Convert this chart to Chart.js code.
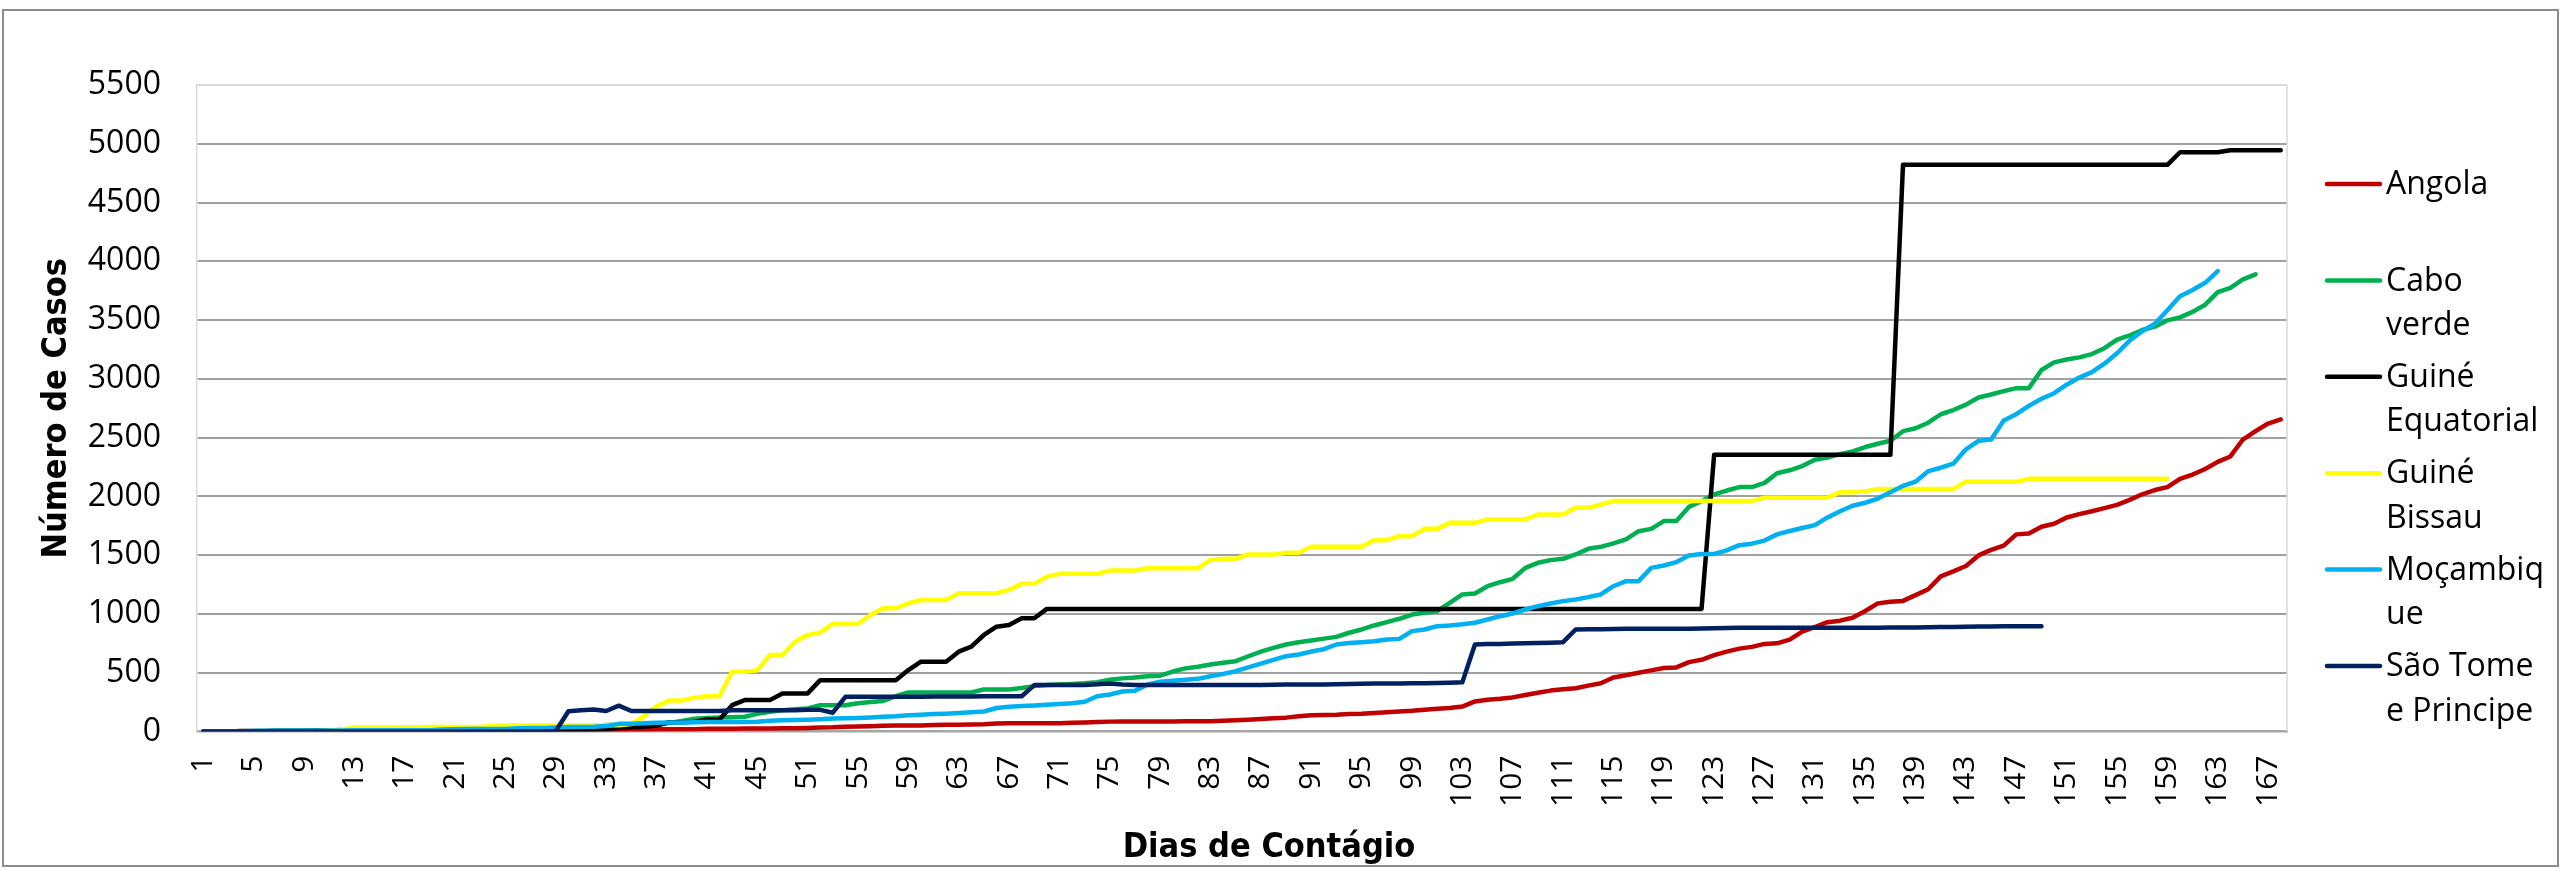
<!DOCTYPE html>
<html><head><meta charset="utf-8">
<script src="https://cdn.jsdelivr.net/npm/chart.js@4.4.1/dist/chart.umd.min.js"></script>
<style>html,body{margin:0;padding:0;background:#fff;}canvas{display:block;}</style>
</head><body>
<canvas id="c" width="2562" height="871"></canvas>
<script>
const days = [1,2,3,4,5,6,7,8,9,10,11,12,13,14,15,16,17,18,19,20,21,22,23,24,25,26,27,28,29,30,31,32,33,34,35,36,37,38,39,40,41,42,43,44,45,46,47,48,
51,52,53,54,55,56,57,58,59,60,61,62,63,64,65,66,67,68,69,70,71,72,73,74,75,76,77,78,79,80,81,82,83,84,85,86,87,88,89,90,91,92,93,94,95,96,97,98,99,100,
101,102,103,104,105,106,107,108,109,110,111,112,113,114,115,116,117,118,119,120,121,122,123,124,125,126,127,128,129,130,131,132,133,134,135,136,137,138,139,140,
141,142,143,144,145,146,147,148,149,150,151,152,153,154,155,156,157,158,159,160,161,162,163,164,165,166,167,168];
const shownTicks = [1,5,9,13,17,21,25,29,33,37,41,45,51,55,59,63,67,71,75,79,83,87,91,95,99,103,107,111,115,119,123,127,131,135,139,143,147,151,155,159,163,167];
const yTicks = [0,500,1000,1500,2000,2500,3000,3500,4000,4500,5000,5500];
const seriesNames = ["Angola","Cabo verde","Guiné Equatorial","Guiné Bissau","Moçambique","São Tome e Principe"];
const legendLines = [["Angola"],["Cabo","verde"],["Guiné","Equatorial"],["Guiné","Bissau"],["Moçambiq","ue"],["São Tome","e Principe"]];
const xTitle = "Dias de Contágio";
const yTitle = "Número de Casos";

const angola = [
0,0,0,0,0,0,0,0,0,0,
0,0,0,0,0,0,0,0,0,0,
1,2,2,3,3,4,4,5,7,7,
8,8,10,14,16,17,19,19,19,19,
24,24,24,25,25,26,27,27,30,35,
36,40,43,45,48,50,52,52,55,58,
58,60,62,69,70,70,70,71,71,74,
76,80,84,86,86,86,86,86,88,88,
88,92,96,100,106,113,118,130,138,140,
142,148,150,158,164,170,176,186,193,200,
212,256,270,278,290,310,330,348,360,368,
390,410,460,478,500,520,540,545,590,610,
650,680,705,720,745,750,781,850,889,930,
943,968,1025,1090,1104,1111,1160,1210,1320,1362,
1408,1498,1545,1581,1677,1684,1742,1767,1821,1849,
1874,1900,1928,1971,2018,2054,2079,2150,2186,2233,
2294,2340,2484,2555,2620,2655];

const caboVerde = [
1,1,1,1,3,3,4,5,5,6,
6,6,7,7,7,7,7,7,7,7,
7,7,8,8,8,10,10,10,11,20,
36,45,56,56,58,61,67,73,90,109,
115,120,122,125,150,168,180,190,196,224,
224,224,240,250,260,300,332,332,332,332,
332,332,358,358,358,370,386,395,400,405,
410,420,440,452,460,470,475,510,537,551,
570,585,598,640,680,712,740,760,775,790,
805,840,868,902,930,959,995,1010,1024,1095,
1166,1174,1236,1270,1299,1392,1435,1458,1469,1506,
1554,1571,1600,1634,1704,1724,1790,1790,1911,1960,
2018,2050,2079,2079,2115,2197,2222,2258,2312,2330,
2360,2383,2420,2448,2473,2555,2580,2627,2699,2735,
2781,2842,2867,2896,2921,2921,3075,3140,3165,3183,
3211,3261,3333,3369,3416,3444,3498,3523,3570,3631,
3738,3774,3846,3889,null,null];

const guineEquatorial = [
1,1,1,4,4,4,6,6,6,9,
9,12,12,12,12,12,13,14,14,15,
15,16,16,16,16,16,16,16,16,18,
18,18,21,30,37,40,51,79,79,83,
102,102,224,267,267,267,324,324,324,437,
437,437,437,437,437,437,523,594,594,594,
679,722,821,892,906,963,963,1043,1043,1043,
1043,1043,1043,1043,1043,1043,1043,1043,1043,1043,
1043,1043,1043,1043,1043,1043,1043,1043,1043,1043,
1043,1043,1043,1043,1043,1043,1043,1043,1043,1043,
1043,1043,1043,1043,1043,1043,1043,1043,1043,1043,
1043,1043,1043,1043,1043,1043,1043,1043,1043,1043,
2354,2354,2354,2354,2354,2354,2354,2354,2354,2354,
2354,2354,2354,2354,2354,4821,4821,4821,4821,4821,
4821,4821,4821,4821,4821,4821,4821,4821,4821,4821,
4821,4821,4821,4821,4821,4821,4821,4928,4928,4928,
4928,4945,4945,4945,4945,4945];

const guineBissau = [
0,0,0,0,0,0,2,2,2,2,
9,18,33,33,33,33,36,36,38,38,
38,38,38,46,50,50,50,50,52,53,
53,53,53,54,64,130,215,263,263,287,
300,300,508,508,520,650,650,764,821,841,
915,915,915,991,1048,1048,1091,1119,1119,1119,
1176,1176,1176,1176,1205,1256,1256,1318,1341,1341,
1341,1341,1369,1369,1369,1389,1389,1389,1389,1389,
1460,1469,1469,1506,1506,1506,1520,1520,1571,1571,
1571,1571,1571,1628,1628,1662,1662,1724,1724,1775,
1775,1775,1804,1804,1804,1804,1846,1846,1846,1903,
1903,1931,1960,1960,1960,1960,1960,1960,1960,1960,
1960,1960,1960,1960,1989,1989,1989,1989,1989,1989,
2036,2036,2043,2064,2064,2064,2064,2064,2064,2064,
2125,2125,2125,2125,2125,2150,2150,2150,2150,2150,
2150,2150,2150,2150,2150,2150,2150,
null,null,null,null,null,null,null,null,null];

const mocambique = [
1,1,1,3,5,7,8,8,8,8,
8,8,10,10,10,10,10,10,10,17,
20,21,21,21,21,28,29,29,35,39,
39,41,46,65,65,70,74,76,76,79,
80,80,81,81,82,91,95,97,100,104,
110,112,115,120,125,130,138,142,148,152,
158,164,170,200,210,216,222,228,233,240,
253,300,315,340,347,400,423,432,440,448,
470,490,513,545,578,610,641,655,680,700,
740,752,760,768,783,788,854,868,896,902,
912,925,953,981,1004,1038,1066,1089,1109,1123,
1143,1166,1236,1279,1279,1392,1412,1441,1497,1510,
1510,1541,1585,1598,1624,1677,1706,1731,1756,1821,
1874,1921,1946,1982,2036,2089,2125,2215,2244,2279,
2401,2473,2484,2645,2699,2770,2831,2878,2950,3011,
3057,3129,3218,3326,3405,3469,3584,3702,3756,3817,
3917,null,null,null,null,null];

const saoTome = [
0,0,0,0,0,0,0,0,0,0,
0,0,0,0,0,0,0,0,0,0,
0,0,0,0,0,0,0,0,4,172,
180,187,174,220,174,174,174,174,174,174,
174,174,180,180,180,180,180,180,184,184,
160,295,295,295,295,295,296,296,298,298,
298,298,299,299,299,300,395,395,395,395,
395,402,409,400,395,395,395,395,395,395,
395,395,396,396,396,398,400,400,400,400,
402,404,406,408,408,408,410,411,412,414,
418,740,745,745,748,750,752,755,760,868,
870,870,872,874,875,875,875,875,875,876,
878,880,882,882,882,882,882,882,882,882,
882,882,882,882,884,885,885,886,888,890,
892,893,894,895,896,896,896,
null,null,null,null,null,null,null,null,null,null,null,null,null,null,null,null,null,null,null];

const colors = ["#C00000","#00B050","#000000","#FFFF00","#00B0F0","#002060"];
const seriesData = [angola, caboVerde, guineEquatorial, guineBissau, mocambique, saoTome];

const W = 2562, H = 871;
const plotLeft = 197, plotRight = 2287, plotTop = 85, plotBottom = 731.5;
const FONT = '"Open Sans", "DejaVu Sans", sans-serif';

const overlay = {
  id: 'overlay',
  afterDraw(chart) {
    const ctx = chart.ctx, a = chart.chartArea;
    ctx.save();
    ctx.strokeStyle = '#d9d9d9'; ctx.lineWidth = 1.5;
    ctx.beginPath(); ctx.moveTo(a.right, a.top); ctx.lineTo(a.right, a.bottom); ctx.stroke();
    ctx.strokeStyle = '#8c8c8c'; ctx.lineWidth = 2;
    ctx.strokeRect(3, 10, W - 7, H - 15);
    ctx.fillStyle = '#000';
    ctx.font = 'bold 34px "Liberation Sans Narrow", "DejaVu Sans Condensed", sans-serif';
    ctx.textAlign = 'center'; ctx.textBaseline = 'middle';
    ctx.fillText(xTitle, 1269, 848);
    ctx.save();
    ctx.translate(57, (a.top + a.bottom) / 2); ctx.rotate(-Math.PI / 2);
    ctx.fillText(yTitle, 0, 0);
    ctx.restore();
    ctx.font = '32px ' + FONT;
    ctx.textAlign = 'left';
    chart.data.datasets.forEach((ds, i) => {
      const y = 184 + i * 96.4;
      ctx.strokeStyle = ds.borderColor; ctx.lineWidth = 4.5; ctx.lineCap = 'round';
      ctx.beginPath(); ctx.moveTo(2327, y); ctx.lineTo(2380, y); ctx.stroke();
      ctx.fillStyle = '#000';
      legendLines[i].forEach((t, j) => ctx.fillText(t, 2386, y + j * 44.5 + 1));
    });
    ctx.restore();
  }
};

new Chart(document.getElementById('c'), {
  type: 'line',
  data: {
    labels: days,
    datasets: seriesNames.map((n, i) => ({
      label: n, data: seriesData[i], borderColor: colors[i], backgroundColor: colors[i],
      borderWidth: 4.5, pointRadius: 0, tension: 0, fill: false, spanGaps: false,
      borderJoinStyle: 'round', borderCapStyle: 'round', order: seriesNames.length - 1 - i
    }))
  },
  options: {
    responsive: false, animation: false, devicePixelRatio: 1,
    layout: { padding: { left: 0, right: W - plotRight, top: plotTop, bottom: 0 } },
    plugins: { legend: { display: false }, tooltip: { enabled: false } },
    scales: {
      x: {
        type: 'category', offset: true,
        grid: { display: false, drawTicks: false },
        border: { display: true, color: '#a6a6a6', width: 2.5 },
        ticks: {
          autoSkip: false, maxRotation: 90, minRotation: 90, padding: 24,
          color: '#000', font: { family: FONT, size: 30 },
          callback: (v, i) => shownTicks.includes(days[i]) ? String(days[i]) : ''
        },
        afterFit: s => { s.height = H - plotBottom; }
      },
      y: {
        min: 0, max: 5500,
        afterBuildTicks: s => { s.ticks = yTicks.map(v => ({ value: v })); },
        grid: {
          drawTicks: false, lineWidth: 2,
          color: c => c.tick && c.tick.value === 0 ? 'rgba(0,0,0,0)' : (c.tick && c.tick.value === 5500 ? '#d9d9d9' : '#a0a0a0')
        },
        border: { display: true, color: '#d9d9d9', width: 1.5 },
        ticks: { padding: 36, color: '#000', font: { family: FONT, size: 32 }, callback: v => String(v) },
        afterFit: s => { s.width = plotLeft; }
      }
    }
  },
  plugins: [overlay]
});
</script>
</body></html>
